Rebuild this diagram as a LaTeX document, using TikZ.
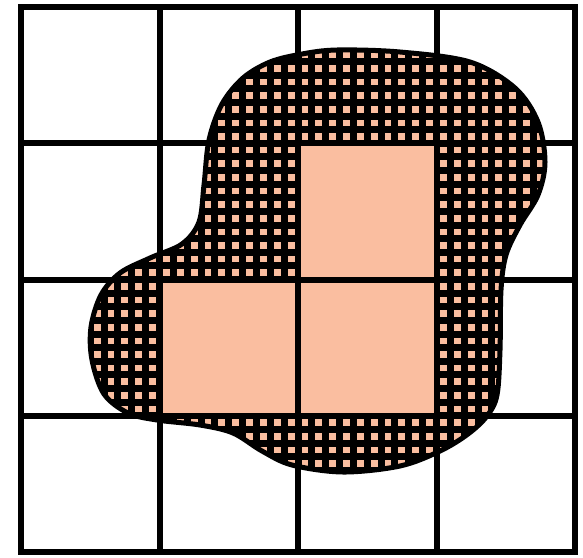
\documentclass[tikz,border=0pt]{standalone}
\definecolor{peach}{RGB}{250,190,160}
\tikzset{
  gridline/.style={line width=6, line cap=rect},
  hatchline/.style={line width=7},
  blobline/.style={line width=5}
}
\begin{document}
\begin{tikzpicture}[x=1pt,y=-1pt]
\useasboundingbox (0,0) rectangle (583,557);
\fill[white] (0,0) rectangle (583,557);
\def\blob{plot[smooth cycle, tension=0.55] coordinates {
 (337,50) (400,52) (470,62) (515,88) (538,122) (545,162) (538,195) (520,225)
 (506,255) (501,290) (500,350) (497,395) (487,416) (468,434) (440,451)
 (400,466) (343,472) (292,465) (262,451) (233,433) (200,425) (157,420)
 (128,413) (104,394) (92,360) (91,327) (101,295) (120,273) (150,258)
 (182,244) (199,222) (204,185) (209,140) (222,104) (243,78) (270,62) (302,54)}}
\fill[peach] \blob;
\begin{scope}
\clip \blob;
\foreach \i in {0,...,40} \draw[hatchline] ({21+13.85*\i},0) -- ++(0,557);
\foreach \j in {0,...,40} \draw[hatchline] (0,{7+13.625*\j}) -- ++(583,0);
\fill[peach] (299.5,143.25) rectangle (438,279.5);
\fill[peach] (160,279.5) rectangle (299.5,415.75);
\fill[peach] (299.5,279.5) rectangle (438,415.75);
\end{scope}
\draw[blobline] \blob;
\foreach \i in {0,...,4} \draw[gridline] ({21+138.5*\i},7) -- ({21+138.5*\i},552);
\foreach \j in {0,...,4} \draw[gridline] (21,{7+136.25*\j}) -- (575,{7+136.25*\j});
\end{tikzpicture}
\end{document}
